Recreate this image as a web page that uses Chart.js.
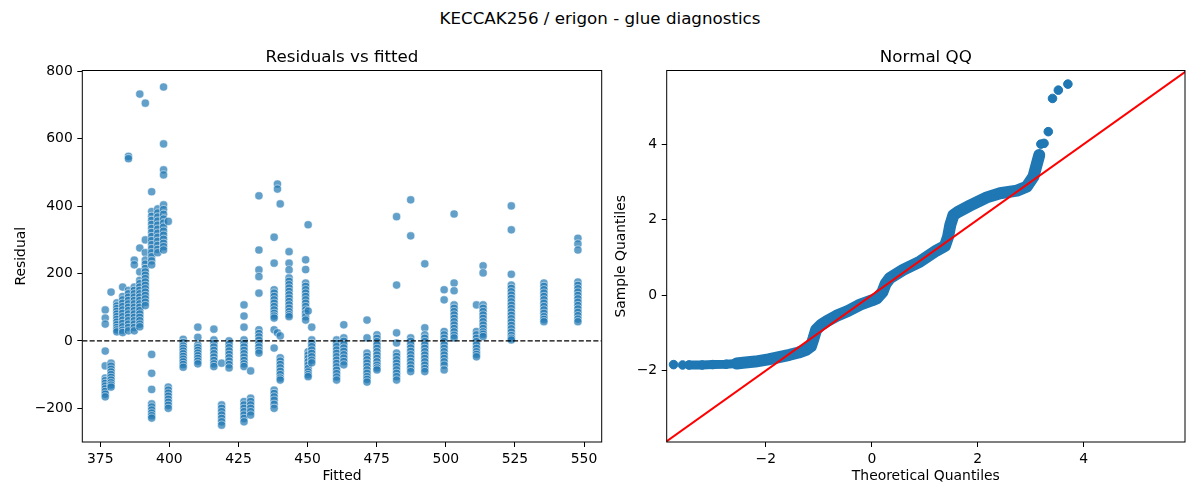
<!DOCTYPE html>
<html>
<head>
<meta charset="utf-8">
<title>KECCAK256 / erigon - glue diagnostics</title>
<script src="https://cdn.jsdelivr.net/npm/chart.js@4.4.1/dist/chart.umd.min.js"></script>
<style>
  html, body { margin: 0; padding: 0; background: #fff; overflow: hidden; }
  #page { position: relative; width: 1200px; height: 500px; }
  #suptitle { position: absolute; left: 0; top: 7px; width: 1200px; text-align: center;
    font-family: "DejaVu Sans", sans-serif; font-size: 16.7px; line-height: 22px; color: #000; }
  canvas { position: absolute; top: 0; }
  #residChart { left: 0; }
  #qqChart { left: 610px; }
</style>
</head>
<body>
<div id="page">
  <div id="suptitle">KECCAK256 / erigon - glue diagnostics</div>
  <canvas id="residChart" width="610" height="500"></canvas>
  <canvas id="qqChart" width="590" height="500"></canvas>
</div>
<script>
// residuals vs fitted: one fitted value per column, residuals
const fittedLevels = [376.8, 378.9, 381.0, 383.1, 385.2, 387.3, 389.3, 391.3, 393.6, 395.8, 397.9, 399.6,
  405.0, 410.3, 416.1, 418.9, 421.6, 427.0, 429.4, 432.4, 437.9, 439.1, 440.1, 443.3, 449.3, 450.2, 451.5,
  460.5, 463.1, 471.5, 475.1, 482.2, 487.3, 492.4, 499.4, 503.0, 511.1, 513.5, 523.7, 535.5, 547.8];

const residualGroups = [
  [92, 68, 50, -30, -74, -110, -118, -126, -134, -142, -150, -158, -166],
  [145, -66, -75, -84, -92, -100, -108, -116, -124, -131, -137],
  [113, 104, 96, 88, 80, 72, 64, 56, 48, 40, 33, 27],
  [160, 132, 122, 112, 102, 92, 82, 72, 62, 52, 42, 32, 25],
  [548, 541, 150, 140, 130, 120, 110, 100, 90, 80, 70, 60, 50, 40, 30],
  [240, 226, 160, 150, 140, 130, 120, 110, 100, 90, 80, 70, 60, 50, 40, 30],
  [733, 276, 205, 180, 170, 160, 150, 140, 130, 120, 110, 100, 90, 80, 70, 60, 50, 42],
  [706, 300, 262, 240, 228, 215, 205, 195, 185, 175, 165, 155, 145, 135, 125, 115, 105],
  [443, 384, 370, 358, 346, 334, 322, 310, 298, 286, 274, 262, 250, 238, 226, -40, -96, -144, -187, -196, -205, -214, -222, -229],
  [392, 380, 368, 356, 344, 332, 320, 308, 296, 284, 272, 262],
  [754, 585, 508, 493, 404, 390, 376, 362, 350, 338, 326, 314, 302, 290, 280, 270],
  [355, -137, -146, -155, -164, -173, -182, -191, -200],
  [5, -5, -15, -22, -30, -38, -46, -54, -62, -70, -78],
  [41, 11, -12, -20, -28, -36, -44, -52, -60, -68],
  [35, 3, -8, -18, -28, -38, -48, -58, -68, -76],
  [-66, -190, -200, -210, -220, -230, -240, -250],
  [0, -10, -20, -30, -40, -50, -60, -70, -80],
  [107, 74, 41, 3, -8, -18, -28, -38, -48, -58, -68, -76, -180, -190, -200, -210, -220, -230, -240],
  [-89, -170, -180, -190, -200, -210, -220],
  [431, 270, 211, 191, 142, 33, 22, 12, 2, -8, -18, -28, -36],
  [308, 231, 152, 142, 132, 122, 112, 102, 92, 82, 74, 68, 33, -21, -146, -156, -166, -176, -188, -200],
  [466, 451, 24],
  [407, 15, -50, -60, -70, -80, -90, -100, -110, -116],
  [265, 231, 211, 187, 177, 167, 157, 147, 137, 127, 117, 107, 97, 87, 78, 72],
  [241, 212, 172, 162, 152, 142, 132, 122, 112, 102, 92, 82, 72, 62],
  [345, 89, -32, -42, -52, -62, -72, -82, -92, -100, -106],
  [41, 3, -7, -17, -27, -37, -47, -57, -65],
  [3, -7, -17, -27, -37, -47, -57, -67, -77, -87, -97, -107, -116],
  [48, 9, -1, -11, -21, -31, -41, -51, -61, -71],
  [62, 9, -36, -46, -56, -66, -76, -86, -96, -106, -114, -122],
  [18, 8, -2, -12, -22, -32, -42, -52, -62, -72, -80, -86],
  [369, 166, 24, -6, -36, -46, -56, -66, -76, -86, -96, -106, -116],
  [419, 312, 9, -1, -11, -21, -31, -41, -51, -61, -71, -81, -91],
  [229, 39, 18, 8, -2, -12, -22, -32, -42, -52, -62, -72, -82, -91],
  [152, 122, 28, 18, 8, -2, -12, -22, -32, -42, -52, -62, -72, -86],
  [377, 172, 149, 107, 97, 87, 77, 67, 57, 47, 37, 27, 17, 9],
  [107, 28, 18, 8, -2, -12, -22, -32, -40, -47],
  [223, 202, 107, 97, 87, 77, 67, 57, 47, 37, 27, 20, 13],
  [401, 330, 198, 166, 156, 146, 136, 126, 116, 106, 96, 86, 76, 66, 56, 46, 36, 26, 16, 8, 3],
  [172, 162, 152, 142, 132, 122, 112, 102, 92, 82, 72, 64, 57],
  [305, 288, 270, 175, 165, 155, 145, 135, 125, 115, 105, 95, 85, 75, 65, 57]
];

const fittedRange = [368.5, 556.4];
const residualRange = [-300, 803];
const fittedTicks = [375, 400, 425, 450, 475, 500, 525, 550];
const residualTicks = [-200, 0, 200, 400, 600, 800];
const zeroLevel = 0;

// normal QQ: the dense band, then the loose points at both ends
const bandTheo = [-3.45, -3.2, -3.0, -2.75, -2.55, -2.43, -2.2, -1.95, -1.75, -1.55, -1.38, -1.24, -1.15, -1.10,
  -1.05, -0.95, -0.86, -0.67, -0.45, -0.22, 0.0, 0.1, 0.2, 0.26, 0.34, 0.59, 0.91, 1.22, 1.38, 1.44, 1.48,
  1.54, 1.62, 1.85, 2.17, 2.42, 2.74, 2.92, 3.05, 3.11, 3.16];
const bandSample = [-1.85, -1.85, -1.84, -1.83, -1.81, -1.79, -1.76, -1.70, -1.64, -1.58, -1.52, -1.45, -1.36, -1.15,
  -0.92, -0.78, -0.70, -0.55, -0.42, -0.25, -0.14, -0.08, 0.08, 0.30, 0.45, 0.67, 0.89, 1.18, 1.30, 1.55, 1.85,
  2.12, 2.20, 2.37, 2.59, 2.70, 2.77, 2.87, 3.14, 3.45, 3.71];
const tailTheo = [-3.74, -3.57, 3.19, 3.25, 3.33, 3.41, 3.52, 3.70];
const tailSample = [-1.84, -1.85, 4.0, 4.02, 4.33, 5.21, 5.43, 5.59];

const qqXRange = [-3.87, 5.91];
const qqYRange = [-3.89, 5.95];
const qqTicks = [-2, 0, 2, 4];
const qqLine = [-3.9, 5.95];

const blue = '#1f77b4';
const tickFont = { family: 'DejaVu Sans', size: 13.9 };
const labelFont = { family: 'DejaVu Sans', size: 13.9 };
const fmt = v => (v < 0 ? '\u2212' + Math.abs(v) : String(v));

function axis(range, ticks, title, titlePad, fixed) {
  return {
    type: 'linear',
    min: range[0],
    max: range[1],
    afterBuildTicks: s => { s.ticks = ticks.map(v => ({ value: v })); },
    afterFit: s => { if (s.isHorizontal()) s.height = fixed; else s.width = fixed; },
    grid: { drawOnChartArea: false, drawTicks: true, tickLength: 5, tickWidth: 1, tickColor: '#000' },
    border: { display: false },
    ticks: { color: '#000', font: tickFont, padding: 4.5, maxRotation: 0, autoSkip: false, callback: fmt },
    title: { display: true, text: title, color: '#000', font: labelFont, padding: titlePad }
  };
}

const framePlugin = {
  id: 'frame',
  afterDraw(chart) {
    const { ctx, chartArea: a } = chart;
    ctx.save();
    ctx.strokeStyle = '#000';
    ctx.lineWidth = 1;
    ctx.strokeRect(a.left, a.top, a.right - a.left, a.bottom - a.top);
    ctx.restore();
  }
};

const panelTitlePlugin = {
  id: 'panelTitle',
  afterDraw(chart, args, opts) {
    const { ctx, chartArea: a } = chart;
    ctx.save();
    ctx.font = '16.7px "DejaVu Sans"';
    ctx.fillStyle = '#000';
    ctx.textAlign = 'center';
    ctx.textBaseline = 'alphabetic';
    ctx.fillText(opts.text, (a.left + a.right) / 2, a.top - 8.3);
    ctx.restore();
  }
};

const residPoints = fittedLevels.flatMap((x, i) => residualGroups[i].map(y => ({ x, y })));

new Chart(document.getElementById('residChart'), {
  type: 'scatter',
  data: {
    datasets: [
      {
        data: [{ x: fittedRange[0], y: zeroLevel }, { x: fittedRange[1], y: zeroLevel }],
        showLine: true,
        borderColor: '#000',
        borderWidth: 1.3,
        borderDash: [5.1, 2.2],
        pointRadius: 0
      },
      {
        data: residPoints,
        backgroundColor: 'rgba(31,119,180,0.7)',
        borderColor: 'rgba(255,255,255,0.7)',
        borderWidth: 0.75,
        pointRadius: 4.1
      }
    ]
  },
  options: {
    responsive: false,
    animation: false,
    layout: { padding: { top: 70.5, right: 8.3, left: 0, bottom: 0 } },
    scales: {
      x: axis(fittedRange, fittedTicks, 'Fitted', { top: 0, bottom: 15 }, 58),
      y: axis(residualRange, residualTicks, 'Residual', { top: 13.5, bottom: 0 }, 82.3)
    },
    plugins: {
      legend: { display: false },
      tooltip: { enabled: false },
      panelTitle: { text: 'Residuals vs fitted' }
    }
  },
  plugins: [framePlugin, panelTitlePlugin]
});

const bandPoints = bandTheo.map((x, i) => ({ x, y: bandSample[i] }));
const tailPoints = tailTheo.map((x, i) => ({ x, y: tailSample[i] }));

new Chart(document.getElementById('qqChart'), {
  type: 'scatter',
  data: {
    datasets: [
      {
        data: [{ x: qqLine[0], y: qqLine[0] }, { x: qqLine[1], y: qqLine[1] }],
        showLine: true,
        borderColor: '#ff0000',
        borderWidth: 2,
        pointRadius: 0
      },
      {
        data: bandPoints,
        backgroundColor: blue,
        borderColor: blue,
        borderWidth: 1,
        pointRadius: 4.3
      },
      {
        data: bandPoints,
        showLine: true,
        borderColor: blue,
        borderWidth: 12,
        borderCapStyle: 'round',
        borderJoinStyle: 'round',
        // the far left of the band is only one marker thick
        segment: { borderWidth: ctx => (ctx.p1.parsed.x < -2.5 ? 9 : 12) },
        pointRadius: 0
      },
      {
        data: tailPoints,
        backgroundColor: blue,
        borderColor: blue,
        borderWidth: 1,
        pointRadius: 4.3
      }
    ]
  },
  options: {
    responsive: false,
    animation: false,
    layout: { padding: { top: 70.5, right: 15, left: 0, bottom: 0 } },
    scales: {
      x: axis(qqXRange, qqTicks, 'Theoretical Quantiles', { top: 0, bottom: 15 }, 58),
      y: axis(qqYRange, qqTicks, 'Sample Quantiles', { top: 3.4, bottom: 0 }, 56.7)
    },
    plugins: {
      legend: { display: false },
      tooltip: { enabled: false },
      panelTitle: { text: 'Normal QQ' }
    }
  },
  plugins: [framePlugin, panelTitlePlugin]
});
</script>
</body>
</html>
